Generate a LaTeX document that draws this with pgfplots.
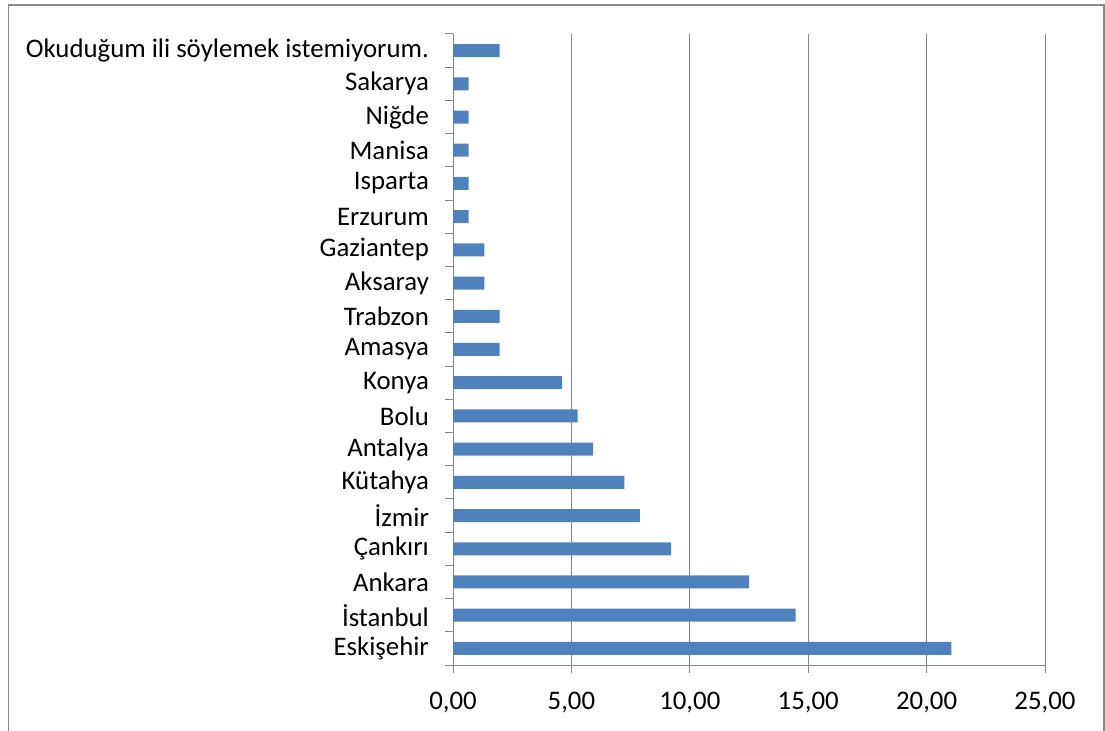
\documentclass[border=0pt]{standalone}
\usepackage{pgfplots}
\pgfplotsset{compat=1.18}
\usepackage{fontspec}
\setmainfont{Carlito}
\definecolor{barblue}{HTML}{4F81BD}
\definecolor{gridgray}{HTML}{868686}
\definecolor{framegray}{HTML}{898989}
\begin{document}
\fontsize{26.8bp}{32bp}\selectfont
\begin{tikzpicture}
\useasboundingbox (0bp,0bp) rectangle (1105bp,731bp);
\draw[framegray, line width=1.2bp] (8.5bp,-20bp) -- (8.5bp,726bp) -- (1104bp,726bp) -- (1104bp,-20bp);
\begin{axis}[
  at={(453bp,66bp)}, anchor=south west,
  scale only axis, width=592bp, height=631bp,
  xbar, bar width=13bp, bar shift=0pt,
  xmin=0, xmax=25, ymin=-0.5, ymax=18.5,
  axis x line*=bottom, axis y line*=left,
  axis line style={gridgray, line width=1bp, -},
  xtick={0,5,...,25},
  xmajorgrids, major grid style={gridgray, line width=1bp},
  x tick style={draw=gridgray, line width=1bp},
  major tick length=8bp,
  xtick align=outside,
  xticklabel style={font=\fontsize{26.8bp}{32bp}\selectfont, yshift=-10bp},
  /pgf/number format/.cd, fixed, fixed zerofill, precision=2, use comma, assume math mode=true,
  /pgfplots/.cd,
  ytick={0,...,18},
  yticklabels={Eskişehir, İstanbul, Ankara, Çankırı, İzmir, Kütahya, Antalya, Bolu, Konya, Amasya, Trabzon, Aksaray, Gaziantep, Erzurum, Isparta, Manisa, Niğde, Sakarya, Okuduğum ili söylemek istemiyorum.},
  y tick style={draw=gridgray, line width=1bp},
  major y tick style={draw=none},
  minor ytick={-0.5,0.5,...,18.5},
  minor tick length=8bp,
  ytick align=outside,
  yticklabel style={font=\fontsize{26.8bp}{32bp}\selectfont, anchor=east, xshift=-7bp},
  clip=false,
]
\addplot[fill=barblue, draw=none] coordinates {
(21.05,0) (14.47,1) (12.50,2) (9.21,3) (7.89,4) (7.24,5) (5.92,6) (5.26,7) (4.61,8)
(1.97,9) (1.97,10) (1.32,11) (1.32,12) (0.66,13) (0.66,14) (0.66,15) (0.66,16) (0.66,17) (1.97,18)
};
\end{axis}
\end{tikzpicture}
\end{document}
